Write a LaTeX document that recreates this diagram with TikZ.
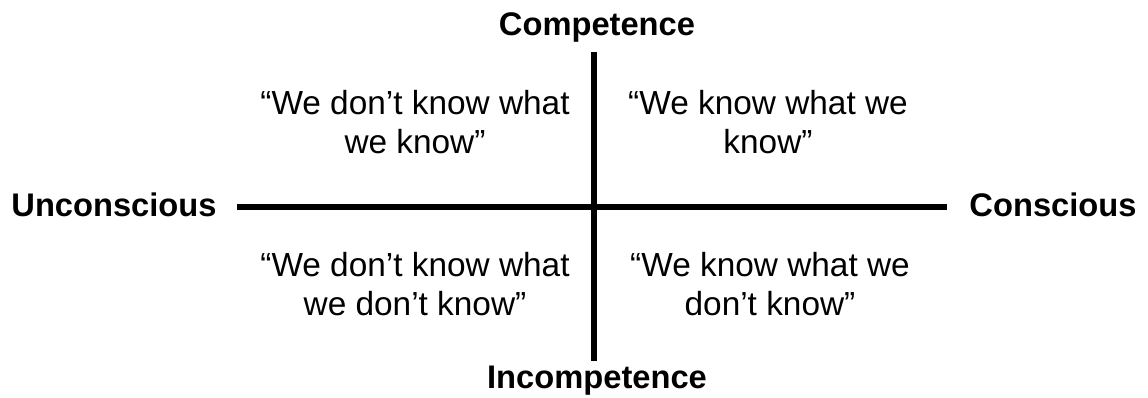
\documentclass[tikz,border=0pt]{standalone}
\usepackage{fontspec}
\setmainfont{Liberation Sans}
\usepackage{tikz}

\tikzset{
  axislabel/.style={font=\fontsize{18.6}{22}\selectfont\bfseries, inner sep=0pt},
  quadtext/.style={font=\fontsize{19}{22.4}\selectfont, align=center, inner sep=0pt},
  axisline/.style={line width=3.4pt}
}

\begin{document}
\begin{tikzpicture}[x=0.02cm,y=-0.02cm]
        \useasboundingbox (0,0) rectangle (1148,397);
        % axes
        \coordinate (top) at (594,52);
        \coordinate (bottom) at (594,361);
        \coordinate (left) at (237,207);
        \coordinate (right) at (947,207);
        \draw[axisline] (top) -- (bottom);
        \draw[axisline] (left) -- (right);
        % axis labels
        \node[axislabel] (comp) at (597,27) {Competence};
        \node[axislabel] (incomp) at (597,381) {Incompetence};
        \node[axislabel] (uncon) at (114,205) {Unconscious};
        \node[axislabel] (con) at (1053,205) {Conscious};
        % quadrants
        \node[quadtext] (ul) at (415,122) {“We don’t know what\\we know”};
        \node[quadtext] (ur) at (768,122) {“We know what we\\know”};
        \node[quadtext] (ll) at (415,284) {“We don’t know what\\we don’t know”};
        \node[quadtext] (lr) at (770,284) {“We know what we\\don’t know”};
\end{tikzpicture}
\end{document}
